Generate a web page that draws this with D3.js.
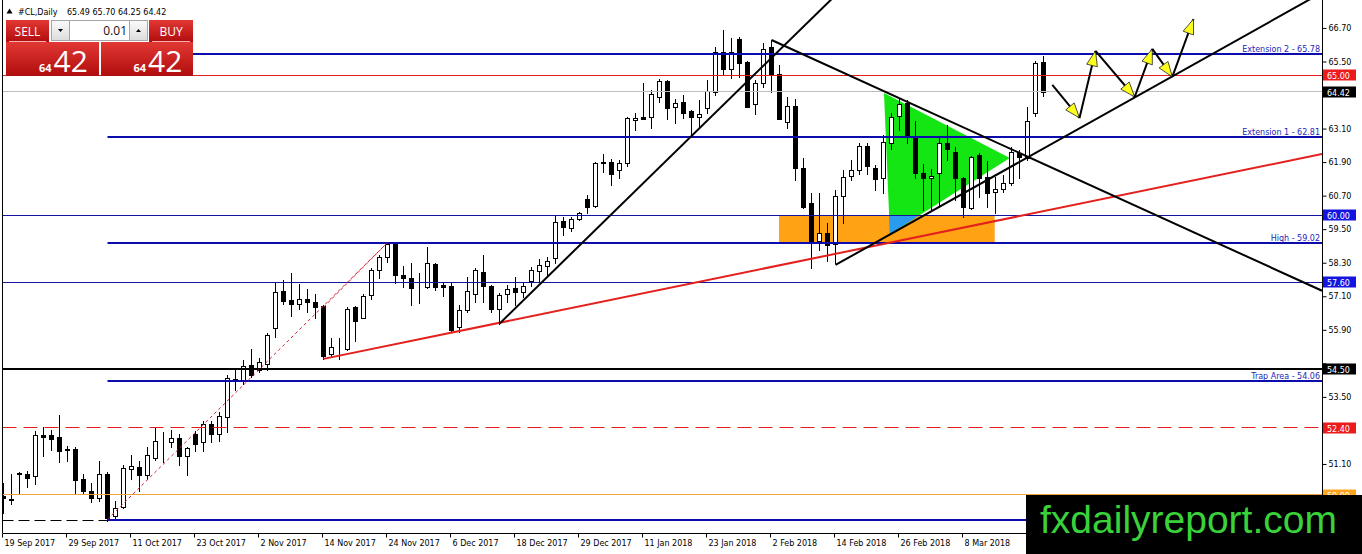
<!DOCTYPE html>
<html>
<head>
<meta charset="utf-8">
<script src="https://cdnjs.cloudflare.com/ajax/libs/d3/7.8.5/d3.min.js"></script>
<style>
	html,body	{ margin:0; padding:0; background:#fff; overflow:hidden; }
	svg				{ display:block; }
	text			{ font-family:"DejaVu Sans",Tahoma,sans-serif; }
</style>
</head>
<body>
<svg id="chart" width="1362" height="554"></svg>
<script>

var fc = 0;

//------------------------------------------------------------------
//	data
//------------------------------------------------------------------
var symbol		= '#CL,Daily';

var tickBars	= [0,8,16,24,32,40,48,56,64,72,80,88,96,104,112,120];
var tickLabels	= ['19 Sep 2017','29 Sep 2017','11 Oct 2017','23 Oct 2017','2 Nov 2017','14 Nov 2017','24 Nov 2017','6 Dec 2017',
									'18 Dec 2017','29 Dec 2017','11 Jan 2018','23 Jan 2018','2 Feb 2018','14 Feb 2018','26 Feb 2018','8 Mar 2018'];

var priceTicks	= [66.70,65.50,64.30,63.10,61.90,60.70,59.50,58.30,57.10,55.90,54.70,53.50,52.30,51.10,49.90];

var opens = [
	49.95,49.85,50.75,50.75,50.67,52.12,52.12,52.05,51.63,51.63,
	50.55,50.15,49.87,50.73,49.23,49.55,50.91,50.99,50.69,51.33,
	51.93,51.90,52.02,51.39,52.17,51.87,52.53,52.17,52.77,54.15,
	54.09,54.63,54.45,54.69,55.98,57.29,56.96,56.84,57.02,56.90,
	56.75,55.05,55.29,55.23,56.72,56.34,57.14,58.04,58.50,58.98,
	57.86,57.74,57.42,57.44,58.26,57.50,57.47,56.01,56.60,57.18,
	57.98,57.47,56.66,57.18,57.41,57.27,57.66,58.02,58.20,58.46,
	59.79,59.53,59.85,60.57,60.34,61.92,61.89,61.60,61.88,63.41,
	63.50,63.53,64.24,64.80,63.86,64.06,63.74,63.53,63.82,64.40,
	65.85,65.22,66.29,65.49,63.98,64.72,66.01,65.04,63.32,63.91,
	61.68,60.43,59.09,59.35,58.97,60.69,61.41,61.60,62.48,61.70,
	61.32,62.60,63.56,64.03,62.79,61.52,61.32,61.52,62.57,62.27,
	61.34,60.25,62.16,61.36,60.84,60.93,61.14,62.21,62.04,63.67,
	65.49];

var highs = [
	50.43,50.73,50.80,50.85,52.29,52.43,52.31,52.86,51.75,51.71,
	50.73,50.41,51.21,50.83,49.77,51.07,51.43,51.21,51.71,52.37,
	52.23,52.31,52.17,51.69,52.29,52.62,52.62,52.95,54.27,54.45,
	54.83,55.23,54.89,55.77,57.60,57.68,57.95,57.54,57.35,57.18,
	56.77,55.59,55.62,56.70,56.75,57.18,58.10,58.58,59.03,59.03,
	58.19,58.28,57.95,58.88,58.28,57.62,57.56,56.78,57.80,58.10,
	58.58,57.50,57.20,57.50,57.78,57.62,58.13,58.42,58.49,59.97,
	59.95,59.95,60.13,60.72,61.92,62.19,62.00,61.98,63.50,63.65,
	64.72,64.48,64.86,64.82,64.15,64.30,63.76,64.12,64.84,66.01,
	66.63,66.33,66.39,65.53,64.84,66.17,66.27,65.37,64.24,64.15,
	62.04,60.78,60.78,59.71,60.90,61.60,61.98,62.60,62.60,61.80,
	62.87,63.65,64.18,64.12,63.38,61.83,61.64,62.75,63.23,62.45,
	61.38,62.12,62.21,61.95,61.38,61.44,62.45,62.33,63.86,65.53,
	65.70];

var lows = [
	49.35,49.67,50.03,50.27,50.37,51.39,51.61,51.17,51.21,50.05,
	50.05,49.75,49.79,49.07,49.11,49.51,50.55,50.13,50.55,51.25,
	51.17,51.69,51.05,50.69,51.55,51.55,51.87,51.91,52.23,53.73,
	53.97,54.21,54.40,54.45,55.65,56.82,56.39,56.66,56.54,56.31,
	54.86,54.95,54.87,55.19,55.49,56.31,57.02,57.74,58.34,57.56,
	57.44,56.78,56.87,57.38,57.32,57.11,55.86,55.83,56.54,56.90,
	56.90,56.54,56.10,56.90,56.79,57.09,57.45,57.62,57.83,58.30,
	59.29,59.45,59.83,60.09,60.31,61.56,61.08,61.32,61.77,63.05,
	63.43,63.11,64.06,63.43,63.29,63.47,62.81,63.11,63.67,64.30,
	65.02,64.90,64.96,63.86,63.62,64.60,64.42,63.43,63.11,61.26,
	60.25,58.10,58.76,58.37,58.28,59.71,61.26,61.48,61.48,60.90,
	60.78,62.36,63.05,62.57,61.32,60.19,60.19,60.31,61.98,60.54,
	59.95,60.21,60.66,60.28,60.07,60.84,61.08,61.32,61.98,63.55,
	64.25];

var closes = [
	49.87,49.82,50.76,50.61,52.14,52.05,52.01,51.57,51.59,50.53,
	50.13,49.87,50.73,49.17,49.53,50.95,51.03,50.71,51.43,51.93,
	51.92,52.02,51.39,51.67,51.83,52.53,52.17,52.83,54.18,54.06,
	54.59,54.27,54.75,55.71,57.24,56.94,56.82,57.02,56.90,56.72,
	54.95,55.29,55.30,56.66,56.22,57.11,58.04,58.52,58.98,57.86,
	57.74,57.38,57.43,58.28,57.44,57.44,55.89,56.60,57.29,58.04,
	57.47,56.66,57.14,57.35,57.27,57.47,58.04,58.22,58.37,59.76,
	59.57,59.85,60.09,60.31,61.88,61.86,61.48,61.88,63.47,63.47,
	63.44,64.34,64.80,63.85,64.03,63.67,63.53,63.61,64.45,65.83,
	65.22,65.85,65.46,63.88,64.72,65.94,65.02,63.44,63.91,61.68,
	60.31,59.02,59.35,58.94,60.70,61.38,61.60,62.48,61.76,61.28,
	62.61,63.53,63.97,62.81,61.52,61.32,61.42,62.57,62.36,61.32,
	60.28,62.07,61.32,60.81,60.93,61.17,62.25,62.09,63.38,65.43,
	64.42];

// fibo levels, drawn from the swing low bar to the right
var fibStartBar	= 13;
var fibPrices		= [49.10, 54.06, 59.02, 62.81, 65.78];
var fibLabels		= ['', 'Trap Area - 54.06', 'High - 59.02', 'Extension 1 - 62.81', 'Extension 2 - 65.78'];

// full width horizontal levels
var levelNames	= ['res65','bid','round60','sup576','line545','dash524','round50','floor'];
var levelPrices	= [65.00, 64.42, 60.00, 57.60, 54.50, 52.40, 50.00, 49.06];

// trend lines as [bar, price] anchors (extended to the right edge)
var trendRed		= [[40, 54.86], [164.8, 62.19]];
var trendUp			= [[62, 56.12], [103.4, 67.70]];
var trendDown		= [[96, 66.27], [164.8, 57.30]];
var trendUp2		= [[104, 58.22], [140, 63.99]];

// dotted fibo legs
var fiboLegs		= [ [[13, 49.12], [48, 59.02]], [[40, 56.71], [48, 59.02]] ];

// pattern objects
var triPts			= [[110.06, 64.37], [125.8, 62.05], [110.8, 59.33]];
var zoneBars		= [96.94, 123.9];
var zonePrices	= [59.02, 60.00];

// projected path
var arrowPts		= [[131.1,64.66],[134.5,63.48],[136.5,65.88],[141.4,64.23],[143.6,65.95],[146.1,64.95],[148.75,67.02]];

var lotSize			= '0.01';
var siteName		= 'fxdailyreport.com';


//------------------------------------------------------------------
//
//------------------------------------------------------------------
var W = 1362, H = 554,
		plotL = 2.5, plotR = 1322, plotB = 533;

var x		= d3.scaleLinear().domain([0, 130]).range([3.5, 1043.5]),
		y		= d3.scaleLinear().domain([48.63, 67.70]).range([533, 0]),
		xEnd	= x.invert(plotR);

var lineStyle = {
	res65:		{ stroke:'#e11d1d', w:1, box:'#ec1b1b' },
	bid:			{ stroke:'#bdbdbd', w:1, box:'#000000' },
	round60:	{ stroke:'#14149e', w:1, box:'#1414e0' },
	sup576:		{ stroke:'#14149e', w:1, box:'#1414e0' },
	line545:	{ stroke:'#000000', w:2, box:'#000000' },
	dash524:	{ stroke:'#e41c1c', w:1, box:'#ec1b1b', dash:'14,7' },
	round50:	{ stroke:'#eba33c', w:1, box:'#ffa41f' },
	floor:		{ stroke:'#000000', w:1, dash:'11,5' },
};

function crisp(v,w)	{ return w%2 ? Math.round(v-0.5)+0.5 : Math.round(v) }

function ray(p)	{
	var s = (p[1][1]-p[0][1]) / (p[1][0]-p[0][0]);
	return [ p[0], [xEnd, p[0][1] + s*(xEnd-p[0][0])] ];
}


//------------------------------------------------------------------
//
//------------------------------------------------------------------
function vizChart(cb)	{

	var f = '['+(fc++)+'] '+arguments.callee.toString().replace(/function\s+/,'').split('(')[0],
	dbg=0, fEnd=function(){ dbg&&console.timeEnd(f); console.groupEnd(f); if (typeof cb=='function') cb() };
	if (dbg){ console.group(f); console.time(f) };

	var svg = d3.select('#chart');

	svg.append('rect').attr('width',W).attr('height',H).attr('fill','#fff');

	var defs = svg.append('defs');

	defs.append('clipPath').attr('id','clip-plot')
		.append('rect')
			.attr('x',plotL).attr('y',0)
			.attr('width',plotR-plotL).attr('height',plotB);

	defs.append('clipPath').attr('id','clip-zone')
		.append('rect')
			.attr('x',x(zoneBars[0])).attr('y',y(zonePrices[1]))
			.attr('width',x(zoneBars[1])-x(zoneBars[0]))
			.attr('height',y(zonePrices[0])-y(zonePrices[1]));

	var grad = defs.append('linearGradient').attr('id','red-grad')
		.attr('x1',0).attr('y1',0).attr('x2',0).attr('y2',1);
	grad.append('stop').attr('offset','0%').attr('stop-color','#e23834');
	grad.append('stop').attr('offset','100%').attr('stop-color','#b00d0d');

	var grey = defs.append('linearGradient').attr('id','grey-grad')
		.attr('x1',0).attr('y1',0).attr('x2',0).attr('y2',1);
	grey.append('stop').attr('offset','0%').attr('stop-color','#fbfbfb');
	grey.append('stop').attr('offset','100%').attr('stop-color','#dcdcdc');

	var plot = svg.append('g').attr('class','plot').attr('clip-path','url(#clip-plot)');

	vizChart_objects(plot);
	vizChart_candles(plot);
	vizChart_lines(plot);
	vizChart_axes(svg);
	vizChart_panel(svg);

	fEnd();

}


//------------------------------------------------------------------
//	background objects: zone rectangle + triangle
//------------------------------------------------------------------
function vizChart_objects(plot)	{

	var line = d3.line().x(d=>x(d[0])).y(d=>y(d[1]));

	plot.append('rect')
		.attr('x',x(zoneBars[0]))
		.attr('y',y(zonePrices[1]))
		.attr('width',x(zoneBars[1])-x(zoneBars[0]))
		.attr('height',y(zonePrices[0])-y(zonePrices[1]))
		.attr('fill','#ffa214');

	plot.append('path')
		.attr('d',line(triPts)+'Z')
		.attr('fill','#14e614');

	// overlap of the two objects
	plot.append('g').attr('clip-path','url(#clip-zone)')
		.append('path')
			.attr('d',line(triPts)+'Z')
			.attr('fill','#2a9cf0');

}


//------------------------------------------------------------------
//
//------------------------------------------------------------------
function vizChart_candles(plot)	{

	var cx = i=>crisp(x(i),1);

	var c = plot.append('g').attr('class','candles')
		.selectAll('g').data(d3.range(opens.length))
		.enter()
			.append('g');

	c.append('line')
		.attr('x1',cx).attr('x2',cx)
		.attr('y1',i=>Math.round(y(highs[i])))
		.attr('y2',i=>Math.round(y(lows[i]))+1)
		.attr('stroke','#000')
		.attr('stroke-width',1);

	c.append('rect')
		.attr('x',i=>cx(i)-2)
		.attr('y',i=>Math.round(y(Math.max(opens[i],closes[i])))+0.5)
		.attr('width',4)
		.attr('height',i=>Math.max(0, Math.round(y(Math.min(opens[i],closes[i]))) - Math.round(y(Math.max(opens[i],closes[i])))))
		.attr('fill',i=>closes[i]>=opens[i] ? '#fff' : '#000')
		.attr('stroke','#000')
		.attr('stroke-width',1);

}


//------------------------------------------------------------------
//
//------------------------------------------------------------------
function vizChart_lines(plot)	{

	var line = d3.line().x(d=>x(d[0])).y(d=>y(d[1]));

	// full width levels
	plot.append('g').selectAll('line').data(levelNames)
		.enter()
			.append('line')
				.attr('x1',plotL).attr('x2',plotR)
				.attr('y1',(d,i)=>crisp(y(levelPrices[i]),lineStyle[d].w))
				.attr('y2',(d,i)=>crisp(y(levelPrices[i]),lineStyle[d].w))
				.attr('stroke',d=>lineStyle[d].stroke)
				.attr('stroke-width',d=>lineStyle[d].w)
				.attr('stroke-dasharray',d=>lineStyle[d].dash||null);

	// fibo levels
	plot.append('g').selectAll('line').data(fibPrices)
		.enter()
			.append('line')
				.attr('x1',x(fibStartBar)).attr('x2',plotR)
				.attr('y1',d=>crisp(y(d),2))
				.attr('y2',d=>crisp(y(d),2))
				.attr('stroke','#0c0cae')
				.attr('stroke-width',2);

	plot.append('g').selectAll('text').data(fibLabels.filter(d=>d))
		.enter()
			.append('text')
				.attr('x',plotR-2)
				.attr('y',d=>crisp(y(fibPrices[fibLabels.indexOf(d)]),2)-2.5)
				.attr('text-anchor','end')
				.attr('font-size','8px')
				.attr('fill','#1e1eb8')
				.text(d=>d);

	// dotted fibo legs
	plot.append('g').selectAll('path').data(fiboLegs)
		.enter()
			.append('path')
				.attr('d',line)
				.attr('fill','none')
				.attr('stroke','#d0202a')
				.attr('stroke-width',1)
				.attr('stroke-dasharray','3,3');

	// trend lines
	plot.append('path')
		.attr('d',line(ray(trendRed)))
		.attr('stroke','#e3201d').attr('stroke-width',2).attr('fill','none');

	plot.append('g').selectAll('path').data([trendUp, trendDown, trendUp2])
		.enter()
			.append('path')
				.attr('d',d=>line(ray(d)))
				.attr('stroke','#000').attr('stroke-width',2).attr('fill','none');

	// projected zig zag arrows
	var segs = d3.range(arrowPts.length-1).map(i=>[arrowPts[i], arrowPts[i+1]]);

	plot.append('g').selectAll('g').data(segs)
		.enter()
			.append('g')
				.call(sel=>{

					sel.append('path')
						.attr('d',line)
						.attr('stroke','#000').attr('stroke-width',2).attr('fill','none');

					sel.append('path')
						.attr('d',d=>{
							var x0 = x(d[0][0]), y0 = y(d[0][1]),
									x1 = x(d[1][0]), y1 = y(d[1][1]),
									len = Math.hypot(x1-x0, y1-y0),
									ux = (x1-x0)/len, uy = (y1-y0)/len,
									bx = x1 - ux*15, by = y1 - uy*15;
							return 'M'+x1+','+y1+
								'L'+(bx - uy*5.5)+','+(by + ux*5.5)+
								'L'+(bx + uy*5.5)+','+(by - ux*5.5)+'Z';
						})
						.attr('fill','#ffff1e')
						.attr('stroke','#222')
						.attr('stroke-width',0.8);

				});

}


//------------------------------------------------------------------
//
//------------------------------------------------------------------
function vizChart_axes(svg)	{

	// frame
	svg.append('line')
		.attr('x1',plotL).attr('x2',plotL).attr('y1',0).attr('y2',plotB)
		.attr('stroke','#000');
	svg.append('line')
		.attr('x1',plotR+0.5).attr('x2',plotR+0.5).attr('y1',0).attr('y2',plotB)
		.attr('stroke','#000');
	svg.append('line')
		.attr('x1',plotL).attr('x2',plotR+0.5).attr('y1',plotB+0.5).attr('y2',plotB+0.5)
		.attr('stroke','#000');

	var boxed = levelNames.filter(d=>lineStyle[d].box),
			boxY	= boxed.map(d=>y(levelPrices[levelNames.indexOf(d)]));

	// price axis (labels sitting under a price box are left out, as the box hides them)
	svg.append('g')
		.attr('transform','translate('+(plotR+0.5)+',0)')
		.call(d3.axisRight(y).tickValues(priceTicks).tickSize(4).tickPadding(2).tickFormat(d3.format('.2f')))
		.call(sel=>{
			sel.select('.domain').remove();
			sel.attr('font-family',null).attr('font-size',null);
			sel.selectAll('.tick line').attr('stroke','#000');
			sel.selectAll('.tick text').attr('font-size','8px').attr('fill','#000');
			sel.selectAll('.tick text')
				.filter(d=>boxY.some(b=>Math.abs(b-y(d))<8))
				.remove();
		});

	// date axis
	svg.append('g')
		.attr('transform','translate(0,'+(plotB+0.5)+')')
		.call(d3.axisBottom(x).tickValues(tickBars).tickSize(4).tickPadding(3).tickFormat((d,i)=>tickLabels[i]))
		.call(sel=>{
			sel.select('.domain').remove();
			sel.attr('font-family',null).attr('font-size',null);
			sel.selectAll('.tick').attr('transform',d=>'translate('+(crisp(x(d),1)-1)+',0)');
			sel.selectAll('.tick line').attr('stroke','#000');
			sel.selectAll('.tick text')
				.attr('text-anchor','start')
				.attr('x',2)
				.attr('font-size','8px')
				.attr('fill','#000');
		});

	// price boxes on the axis
	svg.append('g').selectAll('g').data(boxed)
		.enter()
			.append('g')
				.attr('transform',d=>'translate('+(plotR+1)+','+Math.round(y(levelPrices[levelNames.indexOf(d)]))+')')
				.call(sel=>{
					sel.append('rect')
						.attr('x',0).attr('y',-5.5)
						.attr('width',33).attr('height',11)
						.attr('fill',d=>lineStyle[d].box);
					sel.append('text')
						.attr('x',4).attr('y',3.5)
						.attr('font-size','8px')
						.attr('fill','#fff')
						.text(d=>d3.format('.2f')(levelPrices[levelNames.indexOf(d)]));
				});

}


//------------------------------------------------------------------
//	header, one click trading panel, watermark
//------------------------------------------------------------------
function vizChart_panel(svg)	{

	var n = closes.length-1,
			fmt = d3.format('.2f'),
			bid = fmt(closes[n]).split('.');

	svg.append('path').attr('d','M6.5,13.5L12.5,13.5L9.5,8.5Z').attr('fill','#000');

	svg.append('text')
		.attr('x',18).attr('y',15)
		.attr('font-size','8px')
		.text(symbol);

	svg.append('text')
		.attr('x',67).attr('y',15)
		.attr('font-size','8px')
		.text([opens[n],highs[n],lows[n],closes[n]].map(fmt).join(' '));

	var p = svg.append('g').attr('class','trade-panel')
		.style('font-family','"Open Sans","Liberation Sans",sans-serif');

	// sell / buy buttons
	p.selectAll('.btn').data([
		{ x:6, w:43, t:'SELL' },
		{ x:149, w:44, t:'BUY' },
	])
	.enter()
		.append('g')
			.call(sel=>{
				sel.append('rect')
					.attr('x',d=>d.x).attr('y',20).attr('width',d=>d.w).attr('height',22)
					.attr('fill','url(#red-grad)');
				sel.append('line')
					.attr('x1',d=>d.x+3).attr('x2',d=>d.x+d.w-3)
					.attr('y1',41.5).attr('y2',41.5)
					.attr('stroke','#f3b0b0').attr('stroke-width',1);
				sel.append('text')
					.attr('x',d=>d.x+d.w/2).attr('y',35.5)
					.attr('text-anchor','middle')
					.attr('font-size','12px')
					.attr('fill','#fff')
					.style('font-family','"Open Sans","Liberation Sans",sans-serif')
					.text(d=>d.t);
			});

	// lot spinner
	p.append('rect')
		.attr('x',51.5).attr('y',20.5).attr('width',96).attr('height',20)
		.attr('fill','#fff').attr('stroke','#a6a6a6');
	p.selectAll('.spin').data([51.5, 129.5])
		.enter()
			.append('rect')
				.attr('x',d=>d).attr('y',20.5).attr('width',18).attr('height',20)
				.attr('fill','url(#grey-grad)').attr('stroke','#a6a6a6');
	p.append('path').attr('d','M58,29L63,29L60.5,32Z').attr('fill','#000');
	p.append('path').attr('d','M136,32L141,32L138.5,29Z').attr('fill','#000');
	p.append('text')
		.attr('x',127).attr('y',35)
		.attr('text-anchor','end')
		.attr('font-size','12px')
		.attr('fill','#111')
		.style('font-family','"Open Sans","Liberation Sans",sans-serif')
		.text(lotSize);

	// price tiles
	p.selectAll('.tile').data([
		{ x:6, w:93 },
		{ x:101, w:92 },
	])
	.enter()
		.append('g')
			.call(sel=>{
				sel.append('rect')
					.attr('x',d=>d.x).attr('y',42).attr('width',d=>d.w).attr('height',34)
					.attr('fill','url(#red-grad)');
				sel.append('text')
					.attr('x',d=>d.x+d.w/2-1).attr('y',72)
					.attr('text-anchor','end')
					.attr('font-size','11px')
					.attr('font-weight','bold')
					.attr('fill','#fff')
					.style('font-family','"Open Sans","Liberation Sans",sans-serif')
					.text(bid[0]);
				sel.append('text')
					.attr('x',d=>d.x+d.w/2+1).attr('y',72)
					.attr('font-size','30px')
					.attr('fill','#fff')
					.style('font-family','"Open Sans","Liberation Sans",sans-serif')
					.text(bid[1]);
			});

	// watermark
	svg.append('rect')
		.attr('x',1026).attr('y',495).attr('width',W-1026).attr('height',H-495)
		.attr('fill','#000');
	svg.append('text')
		.attr('x',1040).attr('y',533)
		.attr('font-size','39px')
		.attr('fill','#3ad23a')
		.style('font-family','"Liberation Sans",Arial,sans-serif')
		.text(siteName);

}


vizChart();

</script>
</body>
</html>
